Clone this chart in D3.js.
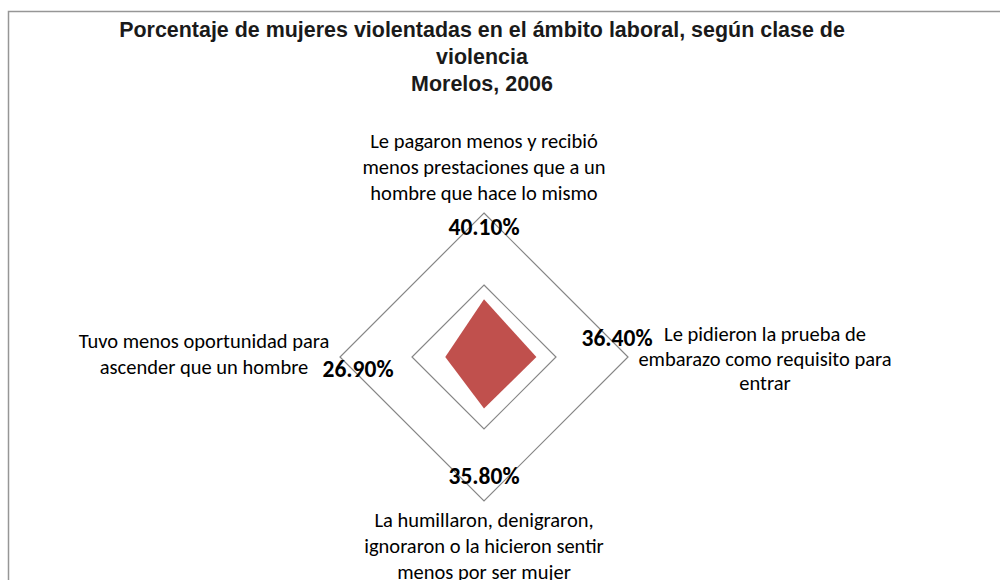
<!DOCTYPE html>
<html>
<head>
<meta charset="utf-8">
<script src="https://cdn.jsdelivr.net/npm/d3@7"></script>
<style>
 body { margin: 0; background: #fff; }
 svg { display: block; }
 .title { font-family: 'Liberation Sans Narrow', 'Arial Narrow', 'Liberation Sans', sans-serif; font-weight: bold; font-size: 22px; fill: #1a1a1a; }
 .cat { font-family: Carlito, Calibri, Lato, sans-serif; font-size: 20.5px; fill: #000; }
 .val { font-family: Carlito, Calibri, Lato, sans-serif; font-size: 23.5px; font-weight: bold; fill: #000; }
</style>
</head>
<body>
<div id="chart"></div>
<script>
// datos
var categories = [
  ['Le pagaron menos y recibió', 'menos prestaciones que a un', 'hombre que hace lo mismo'],
  ['Le pidieron la prueba de', 'embarazo como requisito para', 'entrar'],
  ['La humillaron, denigraron,', 'ignoraron o la hicieron sentir', 'menos por ser mujer'],
  ['Tuvo menos oportunidad para', 'ascender que un hombre']
];
var values = [0.401, 0.364, 0.358, 0.269];
var gridTicks = [0.5, 1];
var titleLines = ['Porcentaje de mujeres violentadas en el ámbito laboral, según clase de', 'violencia', 'Morelos, 2006'];

var width = 1000, height = 580;
var cx = 484, cy = 357, radius = 144;

var svg = d3.select('#chart').append('svg')
  .attr('width', width)
  .attr('height', height);

// marco
svg.append('rect')
  .attr('x', 8.5).attr('y', 11.5)
  .attr('width', 1100).attr('height', 700)
  .attr('fill', 'none')
  .attr('stroke', '#969696')
  .attr('stroke-width', 1.5);

var title = svg.append('text')
  .attr('class', 'title')
  .attr('text-anchor', 'middle')
  .attr('transform', 'translate(482,0) scale(0.975,1)');
title.selectAll('tspan')
  .data(titleLines)
  .enter().append('tspan')
  .attr('x', 0)
  .attr('y', function(d, i) { return 37 + i * 27; })
  .text(function(d) { return d; });

var r = d3.scaleLinear().domain([0, 1]).range([0, radius]);
var angle = d3.scaleLinear().domain([0, categories.length]).range([0, 2 * Math.PI]);

function pt(i, v) {
  var a = angle(i);
  return [cx + r(v) * Math.sin(a), cy - r(v) * Math.cos(a)];
}

var g = svg.append('g');

// lineas de cuadricula
gridTicks.forEach(function(t) {
  var pts = categories.map(function(c, i) { return pt(i, t); });
  g.append('path')
    .attr('d', d3.line()(pts) + 'Z')
    .attr('fill', 'none')
    .attr('stroke', '#868686')
    .attr('stroke-width', 1.2);
});

// serie
var poly = values.map(function(v, i) { return pt(i, v); });
g.append('path')
  .attr('d', d3.line()(poly) + 'Z')
  .attr('fill', '#C0504D')
  .attr('stroke', 'none');

// etiquetas de categoria
var catPos = [
  { x: 484, y: 148, dy: 26 },
  { x: 765, y: 341, dy: 24.5 },
  { x: 484, y: 527, dy: 26 },
  { x: 204, y: 348, dy: 26 }
];
categories.forEach(function(lines, i) {
  var t = svg.append('text')
    .attr('class', 'cat')
    .attr('text-anchor', 'middle');
  t.selectAll('tspan')
    .data(lines)
    .enter().append('tspan')
    .attr('x', catPos[i].x)
    .attr('y', function(d, j) { return catPos[i].y + j * catPos[i].dy; })
    .text(function(d) { return d; });
});

// etiquetas de valor
var valPos = [[484, 235], [617, 346], [484, 484], [358, 377]];
values.forEach(function(v, i) {
  svg.append('text')
    .attr('class', 'val')
    .attr('text-anchor', 'middle')
    .attr('x', valPos[i][0])
    .attr('y', valPos[i][1])
    .text(d3.format('.2%')(v));
});
</script>
</body>
</html>
